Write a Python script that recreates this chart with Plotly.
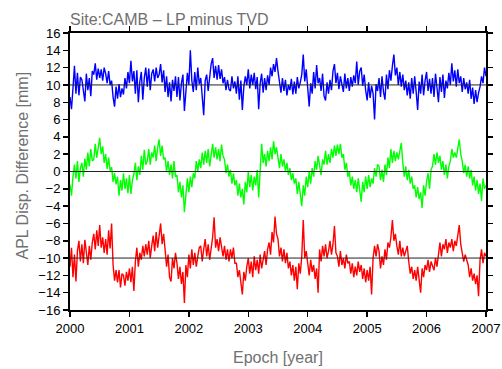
import plotly.graph_objects as go

# Epoch sampling (years) and values (mm)
start_year = 2000.0
step_year = 0.025

lp_minus_tvd_up = [
    8.6, 7.2, 9.6, 12.2,   9.0, 11.4, 8.8, 10.9,   10.6, 9.3, 8.1, 11.3,   9.4, 10.8, 8.7, 11.6,
    11.2, 12.5, 10.6, 11.9,   10.8, 11.8, 10.5, 12.0,   11.3, 10.2, 11.6, 10.0,   10.5, 8.6, 7.5, 9.8,
    8.4, 10.1, 8.6, 9.6,   8.9, 10.8, 9.6, 11.5,   10.2, 12.8, 10.4, 11.6,   9.0, 11.7, 8.0, 10.4,
    11.5, 8.3, 10.8, 12.0,   9.8, 11.9, 9.4, 11.3,   11.8, 10.4, 12.0, 10.8,   11.2, 12.4, 10.3, 11.7,
    9.2, 11.0, 8.6, 10.3,   8.1, 10.6, 9.3, 11.0,   8.6, 10.9, 8.2, 10.2,   11.2, 7.0, 9.5, 11.4,
    10.0, 14.0, 10.5, 9.2,   11.5, 9.4, 12.0, 10.1,   10.8, 8.7, 6.5, 10.5,   11.2, 9.3, 11.0, 12.4,
    13.1, 10.8, 12.2, 10.6,   12.3, 10.7, 11.8, 10.2,   10.9, 9.4, 10.6, 9.5,   9.3, 11.0, 9.6, 10.4,
    9.0, 11.0, 8.3, 10.5,   7.1, 9.8, 11.0, 10.0,   11.8, 9.6, 11.2, 10.0,   11.4, 9.5, 10.9, 7.2,
    10.2, 11.3, 9.1, 10.8,   9.4, 11.1, 10.0, 12.0,   11.0, 12.4, 11.5, 13.1,   11.6, 10.2, 9.1, 10.8,
    9.3, 10.6, 8.8, 10.0,   9.4, 10.7, 8.9, 10.4,   9.0, 10.9, 9.6, 10.3,   11.2, 13.5, 10.4, 11.8,
    9.5, 7.5, 10.2, 9.0,   11.5, 9.6, 12.3, 10.2,   10.8, 9.3, 11.3, 8.7,   8.2, 10.3, 9.0, 10.6,
    9.4, 11.6, 12.4, 10.2,   11.4, 9.5, 11.0, 10.0,   9.2, 11.3, 9.6, 10.8,   9.3, 10.9, 9.8, 11.1,
    10.2, 12.7, 10.0, 11.6,   12.0, 9.9, 11.2, 9.4,   8.2, 10.3, 8.5, 9.9,   9.0, 6.0, 10.1, 9.3,
    10.8, 8.6, 11.0, 9.2,   8.3, 11.2, 9.5, 11.7,   10.5, 12.2, 13.5, 11.1,   12.0, 10.0, 11.5, 9.8,
    11.2, 9.4, 10.5, 8.8,   10.3, 8.4, 10.8, 9.0,   11.0, 9.2, 7.1, 10.4,   9.0, 11.2, 8.8, 10.5,
    11.5, 9.3, 10.7, 9.0,   10.8, 8.6, 11.3, 9.7,   8.0, 10.9, 9.2, 11.2,   8.5, 10.5, 9.6, 11.4,
    10.0, 12.5, 10.4, 11.7,   9.8, 11.8, 10.2, 11.0,   9.2, 10.8, 9.5, 10.3,   9.0, 10.6, 8.4, 9.7,
    7.8, 9.4, 8.0, 9.1,   9.8, 11.0, 10.2, 12.0,   11.0,
]

lp_minus_tvd_east = [
    -1.5, -2.8, -0.6, 0.8,   -0.8, 1.2, -1.2, 0.4,   1.0, -0.6, 1.5, 0.2,   2.2, 0.6, 2.6, 1.2,
    1.4, 3.2, 1.6, 3.0,   3.9, 2.0, 2.9, 1.0,   2.0, 0.3, 1.6, 0.1,   0.5, -1.2, -0.2, -1.5,
    -0.6, -2.8, -1.0, -2.2,   -0.2, -2.0, -0.8, -2.5,   -0.4, -2.6, -1.0, -0.3,   1.0, -1.0, 0.6, -0.4,
    1.8, 0.2, 2.5, 0.8,   1.2, 2.6, 0.8, 2.2,   1.6, 3.0, 1.2, 2.8,   3.7, 1.8, 3.0, 1.4,
    1.6, 0.0, 1.2, -0.4,   0.8, -0.8, 1.2, -0.6,   -0.4, -2.4, -1.2, -3.0,   -1.6, -4.7, -2.2, -0.8,
    -2.4, -0.6, -1.8, -0.2,   -0.8, 1.2, 0.0, 1.4,   0.4, 2.2, 0.8, 2.4,   1.0, 2.6, 0.6, 1.8,
    3.2, 1.6, 2.8, 1.4,   2.6, 1.2, 3.1, 1.8,   1.4, -0.2, 0.8, -0.6,   0.2, -1.4, -0.2, -1.6,
    -1.0, -2.8, -1.4, -3.0,   -2.0, -3.8, -1.2, -2.4,   0.0, -1.8, -0.4, -2.2,   -0.6, -1.6, 0.2, -3.0,
    0.2, 3.2, 1.0, 2.0,   0.6, 2.4, 1.2, 2.8,   1.4, 3.5, 2.0, 2.8,   1.6, 0.4, 2.0, 0.6,
    1.4, 0.0, 1.0, -0.4,   0.4, -1.0, -0.2, -1.4,   -0.8, -2.6, -1.2, -3.0,   -4.0, -1.6, -2.8, -0.6,
    -1.8, 0.0, -1.4, 0.4,   -0.6, 1.2, 0.2, 1.8,   0.6, -0.4, 1.4, 0.8,   2.4, 0.8, 2.0, 1.0,
    2.6, 1.6, 3.0, 1.8,   3.1, 2.0, 3.2, 1.6,   2.0, 0.2, 1.0, -0.6,   0.0, -1.6, -0.6, -2.0,
    -1.0, -2.4, -0.8, -2.2,   -3.5, -1.2, -2.4, -0.6,   -2.0, -0.4, -1.8, -0.8,   -1.4, 0.4, -0.6, 0.8,
    0.6, -1.0, 0.2, -1.2,   0.8, -0.4, 1.6, 0.4,   2.6, 1.0, 2.4, 1.2,   2.2, 1.4, 2.6, 3.3,
    1.0, -0.6, 0.6, -1.0,   0.2, -1.4, -0.6, -2.0,   -1.6, -3.0, -1.8, -3.2,   -2.4, -4.2, -1.6, -2.8,
    -1.2, -0.2, -2.0, 0.2,   0.6, 2.0, 0.8, 2.2,   1.0, 1.8, 0.2, 1.2,   -0.4, 0.8, -0.8, 0.6,
    1.2, 2.6, 1.6, 2.2,   1.6, 2.8, 3.7, 2.0,   1.2, -0.2, 0.8, -0.6,   0.6, -0.8, 0.2, -1.6,
    -0.6, -2.2, -1.0, -2.6,   -1.4, -3.4, -0.8, -2.0,   -1.6,
]

lp_minus_tvd_north = [
    -11.0, -8.8, -12.2, -9.6,   -12.7, -9.2, -8.0, -10.4,   -8.4, -10.6, -7.9, -9.8,   -10.8, -8.6, -10.2, -8.2,
    -7.2, -9.0, -6.8, -8.6,   -6.2, -8.8, -7.6, -9.4,   -7.8, -9.6, -6.8, -8.9,   -6.0, -10.8, -12.6, -11.4,
    -12.8, -11.4, -13.4, -11.8,   -12.0, -13.2, -11.6, -12.6,   -11.2, -12.8, -11.0, -13.8,   -10.4, -8.8, -11.0, -9.4,
    -10.2, -8.6, -9.8, -8.4,   -9.6, -8.0, -10.0, -8.6,   -7.4, -9.2, -7.0, -8.8,   -7.6, -6.0, -8.4, -7.2,
    -9.0, -11.0, -9.6, -12.2,   -12.7, -10.0, -11.2, -9.4,   -10.6, -12.4, -11.0, -13.0,   -11.6, -15.2, -10.8, -12.2,
    -9.6, -11.2, -9.0, -10.8,   -9.4, -11.0, -9.8, -8.8,   -8.6, -10.4, -9.0, -7.8,   -9.8, -8.4, -10.2, -8.8,
    -7.6, -5.3, -8.8, -7.8,   -9.2, -7.6, -8.6, -9.8,   -8.6, -10.2, -9.0, -10.4,   -9.0, -10.0, -8.8, -10.6,
    -10.6, -12.2, -11.4, -12.8,   -14.2, -11.6, -12.6, -11.0,   -10.0, -11.8, -10.4, -12.2,   -9.8, -11.4, -10.2, -11.8,
    -9.6, -11.2, -10.0, -9.2,   -10.8, -9.0, -8.2, -9.6,   -7.0, -8.2, -5.2, -7.2,   -7.8, -9.8, -8.8, -10.4,
    -9.0, -10.6, -9.4, -11.2,   -10.4, -12.0, -10.8, -12.6,   -11.0, -13.6, -10.6, -11.8,   -9.8, -5.6, -10.0, -9.2,
    -10.6, -12.0, -10.2, -11.6,   -10.8, -12.4, -11.2, -14.0,   -9.0, -10.4, -8.6, -9.8,   -8.4, -10.0, -9.2, -8.0,
    -9.6, -8.4, -6.3, -9.4,   -9.8, -11.0, -9.2, -10.8,   -10.0, -11.2, -9.6, -10.6,   -10.4, -11.8, -10.6, -12.2,
    -11.0, -12.0, -10.4, -11.6,   -10.8, -12.4, -11.2, -12.8,   -11.4, -12.6, -11.0, -14.2,   -10.0, -8.6, -9.8, -8.4,
    -9.2, -11.2, -9.8, -10.8,   -9.0, -10.2, -8.2, -8.8,   -7.6, -5.6, -8.0, -7.2,   -8.6, -9.6, -8.0, -9.8,
    -8.8, -9.8, -9.2, -8.6,   -10.4, -11.8, -11.0, -12.4,   -11.4, -12.6, -11.0, -12.8,   -14.0, -11.2, -12.2, -10.8,
    -11.4, -10.2, -11.6, -10.4,   -10.8, -11.4, -10.0, -11.0,   -9.6, -8.2, -9.8, -8.4,   -9.0, -7.8, -9.4, -8.2,
    -8.8, -7.8, -9.2, -8.0,   -8.6, -7.4, -6.2, -8.4,   -9.2, -10.4, -9.6, -10.2,   -10.8, -12.2, -11.2, -12.6,
    -11.8, -13.0, -12.0, -14.4,   -10.2, -9.0, -10.6, -9.4,   -9.8,
]

reference_levels = [10, 0, -10]
year_ticks = [2000, 2001, 2002, 2003, 2004, 2005, 2006, 2007]
value_ticks = list(range(-16, 17, 2))

epochs = [start_year + step_year * i for i in range(len(lp_minus_tvd_up))]

FONT = "Liberation Sans, Arial, sans-serif"
GRAY = "#707070"
FIG_W, FIG_H = 502, 369

fig = go.Figure()
for vals, col in [(lp_minus_tvd_up, "#0000ff"),
                  (lp_minus_tvd_east, "#00ff00"),
                  (lp_minus_tvd_north, "#ff0000")]:
    fig.add_trace(go.Scatter(x=epochs, y=vals, mode="lines",
                             line=dict(color=col, width=1.4), showlegend=False,
                             hoverinfo="skip"))

for lvl in reference_levels:
    fig.add_shape(type="line", xref="x", yref="y", x0=2000, x1=2007, y0=lvl, y1=lvl,
                  line=dict(color="#222222", width=1), layer="above")

axis_common = dict(showgrid=False, zeroline=False, showline=True, linecolor="black",
                   linewidth=2, ticks="outside", ticklen=5, tickwidth=1.5,
                   tickcolor="black", mirror="ticks", automargin=False,
                   ticklabeloverflow="allow",
                   tickfont=dict(family=FONT, size=13, color="black"))

fig.update_xaxes(range=[2000, 2007], tickvals=year_ticks,
                 ticktext=[str(y) for y in year_ticks], **axis_common)
fig.update_yaxes(range=[-16, 16], tickvals=value_ticks,
                 ticktext=[("\u2212" + str(-v)) if v < 0 else str(v) for v in value_ticks],
                 **axis_common)

fig.add_annotation(text="Epoch [year]", xref="paper", yref="paper", x=0.5, y=-47 / 277,
                   xanchor="center", yanchor="middle", showarrow=False,
                   font=dict(family=FONT, size=16, color=GRAY))
fig.add_annotation(text="APL Disp. Difference [mm]", xref="paper", yref="paper",
                   x=-48 / 416, y=0.5 + 6 / 277, xanchor="center", yanchor="middle",
                   textangle=-90, showarrow=False,
                   font=dict(family=FONT, size=16, color=GRAY))

fig.update_layout(
    width=FIG_W, height=FIG_H,
    margin=dict(l=70, r=16, t=33, b=59),
    plot_bgcolor="white", paper_bgcolor="white",
    title=dict(text="Site:CAMB \u2013 LP minus TVD", x=70 / FIG_W, xanchor="left",
               y=1 - 19 / FIG_H, yanchor="middle",
               font=dict(family=FONT, size=16, color=GRAY)),
)

fig.write_html("out.html",
               config={"displayModeBar": False, "staticPlot": True},
               post_script="document.body.style.margin='0';"
                           "document.body.style.overflow='hidden';")
